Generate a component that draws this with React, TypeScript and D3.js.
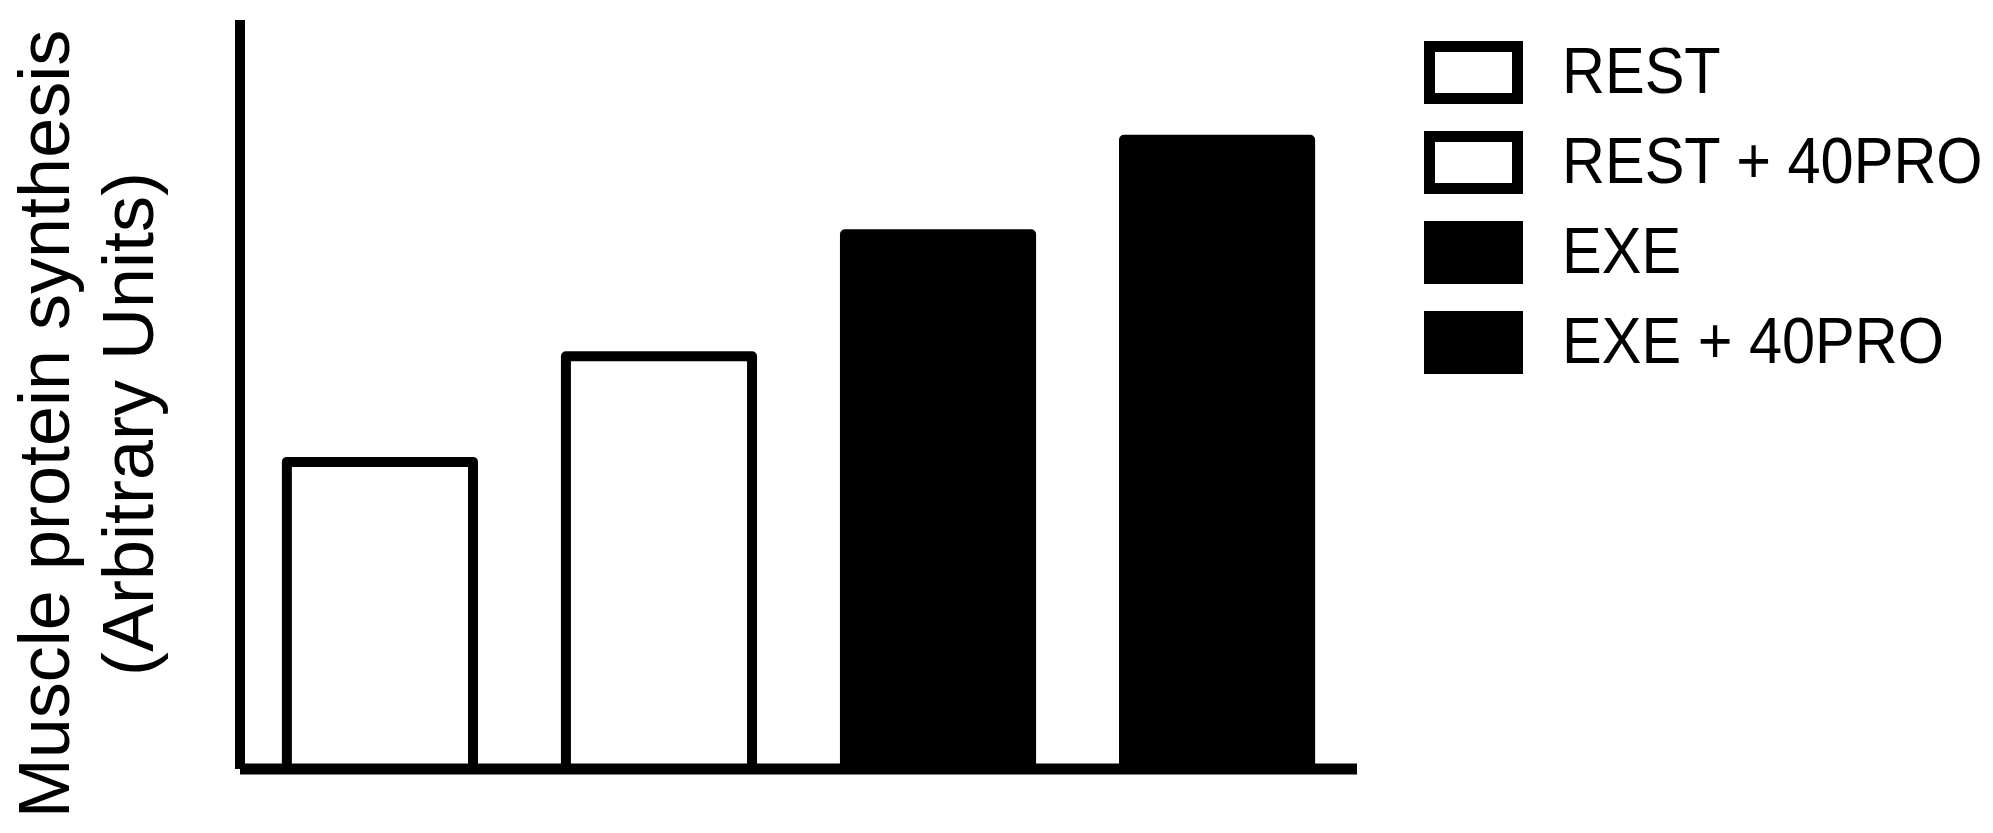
import React from "react";
import * as d3 from "d3";

// groups, in drawing order
const groups = ["REST", "REST + 40PRO", "EXE", "EXE + 40PRO"];
// muscle protein synthesis, arbitrary units (axis runs 0..100)
const values = [41.0, 55.1, 71.4, 84.0];
const fills = ["#ffffff", "#ffffff", "#000000", "#000000"];

const yTitle = ["Muscle protein synthesis", "(Arbitrary Units)"];

const W = 1993;
const H = 833;
const FONT = "'Liberation Sans', Arial, Helvetica, sans-serif";

export default function App() {
  const x = d3
    .scaleBand<string>()
    .domain(groups)
    .range([240, 1357])
    .paddingInner(0.333)
    .paddingOuter(0.168);
  const y = d3.scaleLinear().domain([0, 100]).range([769, 20]);

  const legendRow = d3
    .scaleBand<string>()
    .domain(groups)
    .range([41, 401])
    .paddingInner(0);

  return (
    <svg
      width={W}
      height={H}
      viewBox={`0 0 ${W} ${H}`}
      style={{ position: "absolute", left: 0, top: 0, background: "#fff" }}
    >
      {/* bars */}
      {groups.map((g, i) => (
        <rect
          key={g}
          x={x(g)}
          y={y(values[i])}
          width={x.bandwidth()}
          height={y(0) - y(values[i])}
          fill={fills[i]}
          stroke="#000"
          strokeWidth={10}
          strokeLinejoin="round"
        />
      ))}

      {/* axes */}
      <line x1={240} x2={240} y1={y.range()[1]} y2={y(0)} stroke="#000" strokeWidth={10} />
      <line x1={240} x2={1357} y1={y(0)} y2={y(0)} stroke="#000" strokeWidth={11} />

      {/* y title */}
      <g transform={`translate(69, 424) rotate(-90)`}>
        <text textAnchor="middle" fontFamily={FONT} fontSize={72} fill="#000">
          {yTitle[0]}
        </text>
        <text y={84} textAnchor="middle" fontFamily={FONT} fontSize={72} fill="#000">
          {yTitle[1]}
        </text>
      </g>

      {/* legend */}
      {groups.map((g, i) => {
        const top = legendRow(g) as number;
        return (
          <g key={g}>
            <rect
              x={1429.5}
              y={top + 5.5}
              width={88}
              height={52}
              fill={fills[i]}
              stroke="#000"
              strokeWidth={11}
            />
            <text
              transform={`translate(1562, ${top + 52}) scale(0.93, 1)`}
              fontFamily={FONT}
              fontSize={64}
              fill="#000"
            >
              {g}
            </text>
          </g>
        );
      })}
    </svg>
  );
}
